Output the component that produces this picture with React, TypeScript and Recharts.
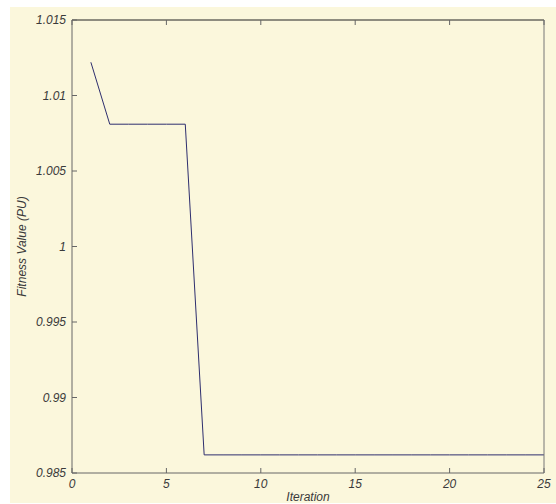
import React from "react";
import { LineChart, Line, XAxis, YAxis } from "recharts";

const iterations = [1, 2, 3, 4, 5, 6, 7, 8, 9, 10, 11, 12, 13, 14, 15, 16, 17, 18, 19, 20, 21, 22, 23, 24, 25];
const fitness = [
    1.0122, 1.0081, 1.0081, 1.0081, 1.0081, 1.0081, 0.9862, 0.9862, 0.9862, 0.9862,
    0.9862, 0.9862, 0.9862, 0.9862, 0.9862, 0.9862, 0.9862, 0.9862, 0.9862, 0.9862,
    0.9862, 0.9862, 0.9862, 0.9862, 0.9862,
];
const xTicks = [0, 5, 10, 15, 20, 25];
const yTicks = [0.985, 0.99, 0.995, 1, 1.005, 1.01, 1.015];

const data = iterations.map((it, i) => ({ iteration: it, value: fitness[i] }));

const FONT = "Arial, 'Liberation Sans', sans-serif";
const TICK_LEN = 5;
const GAP = 6;
const textStyle = { fontSize: 12, fontStyle: "italic" as const, fill: "#3a3a3a", fontFamily: FONT };

// ticks point into the plot, like matlab
const BottomTick = (props: any) => {
    const { x, y, payload } = props;
    return (
        <g>
            <line x1={x} y1={y} x2={x} y2={y - TICK_LEN} stroke="#666" />
            <text x={x} y={y + GAP} dy="0.71em" textAnchor="middle" style={textStyle}>
                {payload.value}
            </text>
        </g>
    );
};

const LeftTick = (props: any) => {
    const { x, y, payload } = props;
    return (
        <g>
            <line x1={x} y1={y} x2={x + TICK_LEN} y2={y} stroke="#666" />
            <text x={x - GAP} y={y} dy="0.35em" textAnchor="end" style={textStyle}>
                {payload.value}
            </text>
        </g>
    );
};

const TopTick = (props: any) => {
    const { x, y } = props;
    return <line x1={x} y1={y} x2={x} y2={y + TICK_LEN} stroke="#666" />;
};

const RightTick = (props: any) => {
    const { x, y } = props;
    return <line x1={x} y1={y} x2={x - TICK_LEN} y2={y} stroke="#666" />;
};

const App: React.FC = () => {
    return (
        <div style={{ position: "absolute", left: 0, top: 0, width: 556, height: 504, background: "#ffffff" }}>
            <div
                style={{
                    position: "absolute",
                    left: 10,
                    top: 7,
                    width: 546,
                    height: 496,
                    background: "#FBF7DC",
                }}
            />
            <div style={{ position: "absolute", left: 0, top: 0 }}>
                <LineChart width={556} height={504} data={data} margin={{ top: 19, right: 11, bottom: 1, left: 12 }}>
                    <XAxis
                        xAxisId="bottom"
                        dataKey="iteration"
                        type="number"
                        domain={[0, 25]}
                        ticks={xTicks}
                        height={30}
                        tickSize={0}
                        tickMargin={0}
                        tickLine={false}
                        stroke="#666"
                        tick={<BottomTick />}
                        label={{
                            value: "Iteration",
                            position: "insideBottom",
                            offset: 2,
                            style: { ...textStyle, textAnchor: "middle" },
                        }}
                    />
                    <XAxis
                        xAxisId="top"
                        orientation="top"
                        dataKey="iteration"
                        type="number"
                        domain={[0, 25]}
                        ticks={xTicks}
                        height={1}
                        tickSize={0}
                        tickMargin={0}
                        tickLine={false}
                        stroke="#222"
                        tick={<TopTick />}
                    />
                    <YAxis
                        yAxisId="left"
                        type="number"
                        domain={[0.985, 1.015]}
                        ticks={yTicks}
                        width={60}
                        tickSize={0}
                        tickMargin={0}
                        tickLine={false}
                        stroke="#666"
                        tick={<LeftTick />}
                        label={{
                            value: "Fitness Value (PU)",
                            angle: -90,
                            position: "insideLeft",
                            offset: 10,
                            style: { ...textStyle, textAnchor: "middle" },
                        }}
                    />
                    <YAxis
                        yAxisId="right"
                        orientation="right"
                        type="number"
                        domain={[0.985, 1.015]}
                        ticks={yTicks}
                        width={1}
                        tickSize={0}
                        tickMargin={0}
                        tickLine={false}
                        stroke="#777"
                        tick={<RightTick />}
                    />
                    <Line
                        xAxisId="bottom"
                        yAxisId="left"
                        type="linear"
                        dataKey="value"
                        stroke="#2e2e6e"
                        strokeWidth={1}
                        dot={false}
                        isAnimationActive={false}
                    />
                </LineChart>
            </div>
        </div>
    );
};

export default App;
